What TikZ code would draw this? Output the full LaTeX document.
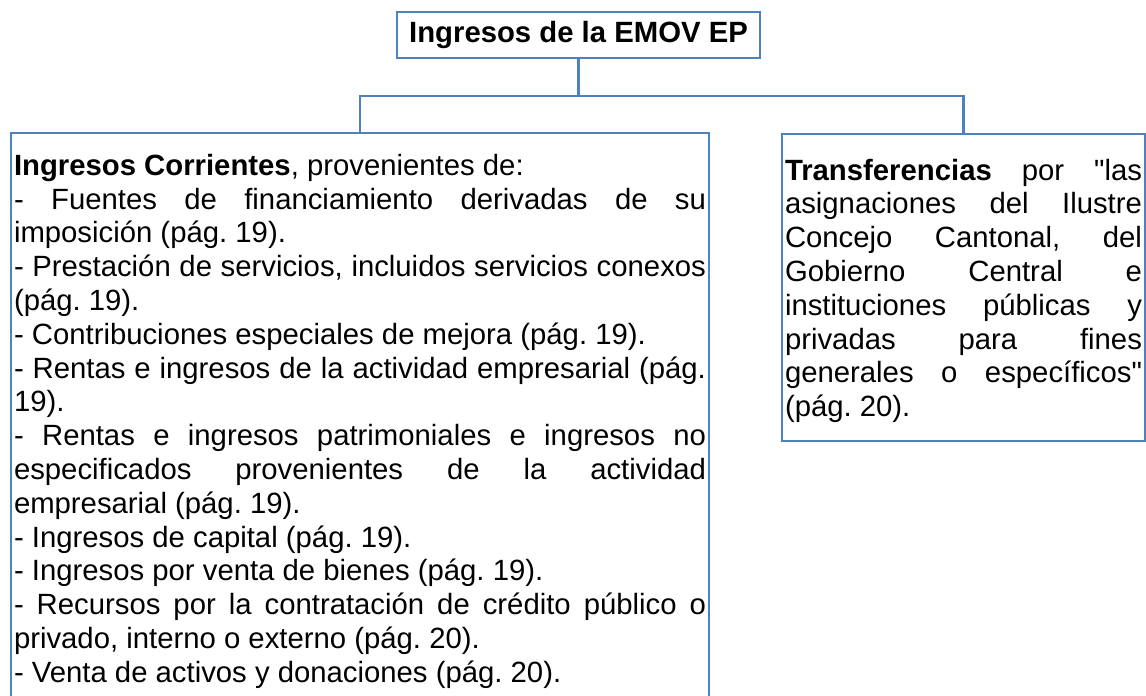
\documentclass[tikz,border=0pt]{standalone}
\usepackage{fontspec}
\setmainfont{Liberation Sans}[Ligatures=TeXOff]
\usepackage{xcolor}
\usepackage{tikz}
\usetikzlibrary{positioning}
\definecolor{azulcaja}{HTML}{4F81BD}
\newcommand\tamano{\fontsize{29.3}{33.8}\selectfont\frenchspacing\hyphenpenalty=10000\relax}

\begin{document}
\begin{tikzpicture}[x=1pt,y=-1pt,
  caja/.style={draw=azulcaja,line width=2.5pt,outer sep=0pt,inner xsep=3pt},
  linea/.style={draw=azulcaja,line width=2.5pt},
  letra/.style={font=\tamano}]
\clip (0,0) rectangle (1146,696);
\node[caja,font={\tamano\bfseries},minimum width=363pt,minimum height=46pt,inner sep=0pt] (titulo) at (578.5,35) {Ingresos de la EMOV EP};
\node[caja,letra,anchor=north west,text width=692pt,align=justify,inner ysep=21pt] (corrientes) at (11,133) {\textbf{Ingresos Corrientes}, provenientes de:\\
- Fuentes de financiamiento derivadas de su\linebreak imposición (pág. 19).\\
- Prestación de servicios, incluidos servicios conexos\linebreak (pág. 19).\\
- Contribuciones especiales de mejora (pág. 19).\\
- Rentas e ingresos de la actividad empresarial (pág.\linebreak 19).\\
- Rentas e ingresos patrimoniales e ingresos no\linebreak especificados provenientes de la actividad\linebreak empresarial (pág. 19).\\
- Ingresos de capital (pág. 19).\\
- Ingresos por venta de bienes (pág. 19).\\
- Recursos por la contratación de crédito público o\linebreak privado, interno o externo (pág. 20).\\
- Venta de activos y donaciones (pág. 20).};
\node[caja,letra,anchor=north west,text width=357pt,align=justify,minimum height=307pt] (transferencias) at (782,134) {\rule{0pt}{28pt}\textbf{Transferencias} por "las\linebreak asignaciones del Ilustre\linebreak Concejo Cantonal, del\linebreak Gobierno Central e\linebreak instituciones públicas y\linebreak privadas para fines\linebreak generales o específicos"\linebreak (pág. 20).};
\coordinate (rama) at (578.5,96);
\draw[linea] (titulo.south) -- (rama);
\draw[linea] (corrientes.north) |- (rama) -| (transferencias.north);
\end{tikzpicture}
\end{document}
